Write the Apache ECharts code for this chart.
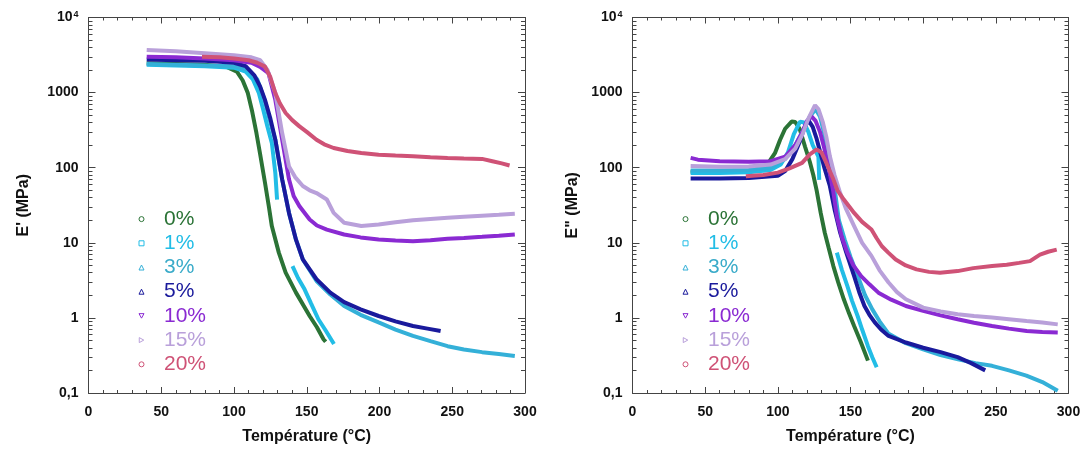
<!DOCTYPE html>
<html>
<head>
<meta charset="utf-8">
<script src="https://cdn.jsdelivr.net/npm/echarts@6/dist/echarts.min.js"></script>
<style>html,body{margin:0;padding:0;background:#fff;}#c{width:1086px;height:450px;}</style>
</head>
<body>
<div id="c"></div>
<script>
// ---- categories / labels ----
const seriesNames = ['0%', '1%', '3%', '5%', '10%', '15%', '20%'];
const xTitle = 'Température (°C)';
const yTitleLeft = "E' (MPa)";
const yTitleRight = 'E" (MPa)';
const decadeMultipliers = [2, 3, 4, 5, 6, 7, 8, 9];
const decades = [0.1, 1, 10, 100, 1000];

// ---- E' (storage modulus) [T, MPa] ----
const storage0 = [[40,2450],[60,2400],[80,2350],[95,2200],[102,1900],[106,1450],[109.5,985],[112.5,560],[115.4,290],[118,150],[121.3,63],[124,30],[126,16.7],[130.8,7.4],[135.5,4.0],[142.6,2.17],[152,1.06],[157,0.75],[161.5,0.52],[163,0.48]];
const storage1 = [[40,2350],[60,2300],[80,2250],[100,2150],[108,1900],[113,1500],[117,1000],[120.1,590],[123,350],[126,214],[128.4,85],[129.6,37.7],[135,null],[140.2,4.9],[144,3.4],[148.5,2.4],[153,1.55],[158,0.96],[163,0.68],[168.7,0.45]];
const storage3 = [[40,2400],[60,2350],[80,2300],[100,2250],[110,2000],[116,1500],[121,800],[125,400],[128.4,236],[133.1,70],[137.8,25],[142.6,11],[147.3,6],[156.7,3.1],[166.2,2.05],[175.7,1.44],[187,1.1],[199.4,0.87],[211,0.7],[223,0.575],[235,0.49],[246.8,0.42],[258,0.38],[270.5,0.35],[282,0.33],[293,0.31]];
const storage5 = [[40,2750],[60,2700],[80,2650],[100,2500],[108,2250],[114,1700],[118,1200],[121.3,800],[125,450],[128.4,236],[133.1,70],[137.8,25],[142.6,11],[147.3,6],[156.7,3.27],[166.2,2.17],[175.7,1.62],[187,1.3],[199.4,1.06],[211,0.9],[223,0.78],[233,0.72],[242,0.67]];
const storage10 = [[40,3000],[60,2950],[80,2850],[100,2700],[112,2500],[118,2200],[123.7,1815],[128.4,800],[133.1,236],[137.8,70],[141,42],[145,30.7],[152,20.4],[157,17],[163.8,15],[175.7,12.9],[187,11.8],[199.4,11.1],[211,10.7],[223,10.5],[235,10.8],[246.8,11.3],[258,11.6],[270.5,12],[282,12.4],[293,12.9]];
const storage15 = [[40,3700],[60,3550],[80,3350],[100,3150],[112,2950],[118,2700],[123,2000],[128.4,985],[133.1,290],[137.8,104],[142,75],[147.3,57],[152,50],[156.7,46],[163.8,37.7],[168.5,25],[175.7,18.5],[187.5,16.7],[199.4,17.5],[211,18.8],[223,20],[235,20.8],[246.8,21.5],[258,22.2],[270.5,23],[282,23.6],[293,24.3]];
const storage20 = [[78,3000],[90,2950],[100,2850],[110,2700],[116,2500],[121.3,2220],[125,1600],[128.4,985],[131.5,720],[135.5,535],[140,430],[145,355],[150,300],[156.7,236],[162,205],[168.5,183],[178,167],[187.5,157],[199.4,149],[211,145],[223,142],[235,138],[246.8,135],[258,133],[270.5,131],[277.6,122],[284,114],[289.4,107]];

// ---- E" (loss modulus) [T, MPa] ----
const loss0 = [[40,88],[60,88],[80,90],[92,105],[98,156],[101.5,234],[105,330],[109.5,411],[112,405],[115,330],[118.7,191],[122,120],[124.4,80],[126.7,50],[129.5,25],[132.3,13.6],[135,8.5],[138.2,4.9],[141.5,3.0],[145.4,1.77],[149,1.15],[152.5,0.78],[157,0.48],[162,0.27]];
const loss1 = [[40,85],[60,85],[80,87],[95,93],[102,110],[107,160],[111,280],[115.3,411],[118,400],[121,300],[124,200],[127.9,141],[128.5,69],[134,null],[140.6,7.4],[144,4.4],[147.8,2.67],[151,1.7],[154.9,1.06],[158,0.7],[162,0.42],[165,0.3],[168,0.22]];
const loss3 = [[40,92],[60,92],[80,93],[95,100],[105,130],[112,200],[118,330],[122,480],[126,600],[129,480],[132,280],[135,150],[138,75],[142,20],[146,11],[150,6.5],[155,3.6],[160,2.0],[165,1.3],[170,0.9],[176,0.62],[188,0.46],[200,0.38],[212,0.32],[224,0.28],[236,0.25],[247.4,0.23],[259,0.2],[271,0.17],[282,0.14],[292.6,0.107]];
const loss5 = [[40,72],[60,72],[80,73],[100,78],[105,90],[110,130],[115,220],[118,330],[121,430],[124,350],[126.5,250],[128.7,174],[132,100],[135.8,57],[139,28],[142.9,13.6],[147,7.5],[152.5,3.6],[156,2.2],[159.6,1.44],[163,1.1],[166.7,0.87],[171,0.7],[176.2,0.575],[182,0.52],[188.1,0.47],[200,0.4],[212,0.35],[223.7,0.3],[233,0.25],[242.7,0.2]];
const loss10 = [[40,135],[45,128],[60,122],[80,120],[95,122],[105,140],[112,200],[117,300],[120,420],[123.3,480],[126,420],[129,300],[132,180],[135,100],[138,50],[140.6,22.6],[144,12],[147.8,7.4],[152,5],[157.3,3.6],[163,2.8],[169.2,2.17],[178,1.75],[188.1,1.44],[200,1.24],[212,1.08],[223.7,0.96],[235,0.86],[247.4,0.78],[259,0.72],[271.2,0.67],[282,0.65],[292.6,0.64]];
const loss15 = [[40,105],[60,103],[80,104],[95,110],[105,130],[112,180],[117,280],[121,450],[125.6,680],[128,600],[131,400],[133.5,250],[135.8,142],[139,80],[142.9,46],[147,28],[152.5,16.7],[158,10],[164.4,6.7],[170,4.3],[176.2,2.96],[182,2.2],[188.1,1.77],[200,1.37],[212,1.22],[223.7,1.12],[235,1.06],[247.4,1.01],[259,0.96],[271.2,0.91],[282,0.87],[292.6,0.82]];
const loss20 = [[78,77],[90,80],[100,86],[108,98],[116.7,116],[122,150],[126.7,175],[130,160],[133,120],[138.2,70],[141,50],[145.4,37.7],[152.5,25],[158,19],[164.4,15],[168,11.5],[171.6,9],[176,7.4],[181.1,6],[188,5],[195.4,4.43],[204,4.1],[211.6,4.0],[223.7,4.2],[234.5,4.6],[247.4,4.9],[257.5,5.1],[266,5.4],[273.5,5.7],[280.4,6.95],[286,7.6],[291.9,8.1]];

const storageData = [storage0, storage1, storage3, storage5, storage10, storage15, storage20];
const lossData = [loss0, loss1, loss3, loss5, loss10, loss15, loss20];

// ---- styles ----
const colors = ['#2b7336', '#22bde6', '#34b0d8', '#1a1a9c', '#8a2ad2', '#b9a0da', '#cf5276'];
const textColors = ['#2b7336', '#22bde6', '#3aabc9', '#1a1a9c', '#8a2ad2', '#b9a0da', '#cf5276'];
const icons = ['circle', 'rect', 'triangle', 'triangle', 'path://M0,0L10,0L5,9Z', 'path://M0,0L9,5L0,10Z', 'circle'];
const FF = '"Liberation Sans", Arial, sans-serif';
const AX = '#444';

const minorLogPositions = [];
decades.forEach(d => decadeMultipliers.forEach(m => minorLogPositions.push(Math.log10(d * m))));

function xAxes(gridIndex) {
  return [
    { type: 'value', gridIndex, min: 0, max: 300, interval: 50, position: 'bottom',
      name: xTitle, nameLocation: 'middle', nameGap: 36,
      nameTextStyle: { fontFamily: FF, fontWeight: 'bold', fontSize: 16, color: '#111' },
      axisLine: { show: true, onZero: false, lineStyle: { color: AX, width: 1 } },
      axisTick: { show: true, inside: true, length: 6, lineStyle: { color: AX } },
      minorTick: { show: true, splitNumber: 5, length: 3, lineStyle: { color: AX } },
      axisLabel: { show: true, margin: 12, fontFamily: FF, fontWeight: 'bold', fontSize: 14, color: '#111' },
      splitLine: { show: false }, minorSplitLine: { show: false } },
    { type: 'value', gridIndex, min: 0, max: 300, interval: 50, position: 'top',
      axisLine: { show: true, onZero: false, lineStyle: { color: AX, width: 1 } },
      axisTick: { show: true, inside: true, length: 6, lineStyle: { color: AX } },
      minorTick: { show: true, splitNumber: 5, length: 3, lineStyle: { color: AX } },
      axisLabel: { show: false }, splitLine: { show: false } }
  ];
}

function yAxes(gridIndex, title, nameGap) {
  return [
    { type: 'log', gridIndex, logBase: 10, min: 0.1, max: 10000, splitNumber: 5, position: 'left',
      name: title, nameLocation: 'middle', nameGap, nameRotate: 90,
      nameTextStyle: { fontFamily: FF, fontWeight: 'bold', fontSize: 16, color: '#111' },
      axisLine: { show: true, onZero: false, lineStyle: { color: AX, width: 1 } },
      axisTick: { show: true, inside: true, length: 7, lineStyle: { color: AX } },
      axisLabel: { show: true, margin: 10, fontFamily: FF, fontWeight: 'bold', fontSize: 14, color: '#111',
        formatter: v => v < 0.5 ? '0,1' : (v > 5000 ? '{b|10}{s|4}' : String(Math.round(v))),
        rich: { b: { fontFamily: FF, fontWeight: 'bold', fontSize: 14, color: '#111' },
                s: { fontFamily: FF, fontWeight: 'bold', fontSize: 9, color: '#111', verticalAlign: 'top', padding: [0, 0, 6, 1] } } },
      splitLine: { show: false } },
    { type: 'log', gridIndex, logBase: 10, min: 0.1, max: 10000, splitNumber: 5, position: 'right',
      axisLine: { show: true, onZero: false, lineStyle: { color: AX, width: 1 } },
      axisTick: { show: true, inside: true, length: 7, lineStyle: { color: AX } },
      axisLabel: { show: false }, splitLine: { show: false } },
    { type: 'value', gridIndex, min: -1, max: 4, position: 'left',
      axisLine: { show: false, onZero: false },
      axisTick: { show: true, inside: true, length: 4, customValues: minorLogPositions, lineStyle: { color: AX } },
      axisLabel: { show: false }, splitLine: { show: false } },
    { type: 'value', gridIndex, min: -1, max: 4, position: 'right',
      axisLine: { show: false, onZero: false },
      axisTick: { show: true, inside: true, length: 4, customValues: minorLogPositions, lineStyle: { color: AX } },
      axisLabel: { show: false }, splitLine: { show: false } }
  ];
}

function legend(left) {
  return {
    left, top: 202, orient: 'vertical', itemWidth: 5, itemHeight: 5, itemGap: 0,
    selectedMode: false,
    textStyle: { fontFamily: FF, fontSize: 21, lineHeight: 24.2, padding: [0, 0, 0, 15] },
    data: seriesNames.map((n, i) => ({
      name: n, icon: icons[i],
      itemStyle: { color: '#fff', borderColor: colors[i], borderWidth: 1 },
      textStyle: { color: textColors[i] }
    }))
  };
}

function makeSeries(dataList, xIdx, yIdx) {
  return dataList.map((d, i) => ({
    type: 'line', name: seriesNames[i], xAxisIndex: xIdx, yAxisIndex: yIdx,
    data: d, showSymbol: false, connectNulls: false, smooth: false,
    lineStyle: { width: 4, color: colors[i] }, itemStyle: { color: colors[i] },
    z: 2 + i
  }));
}

const chart = echarts.init(document.getElementById('c'), null, { renderer: 'canvas' });
chart.setOption({
  animation: false,
  backgroundColor: '#fff',
  grid: [
    { left: 88.5, top: 17.5, width: 436.5, height: 376 },
    { left: 632.5, top: 17.5, width: 436, height: 376 }
  ],
  xAxis: [...xAxes(0), ...xAxes(1)],
  yAxis: [...yAxes(0, yTitleLeft, 57), ...yAxes(1, yTitleRight, 52)],
  legend: [legend(133.5), legend(677.5)],
  series: [...makeSeries(storageData, 0, 0), ...makeSeries(lossData, 2, 4)]
});
</script>
</body>
</html>
